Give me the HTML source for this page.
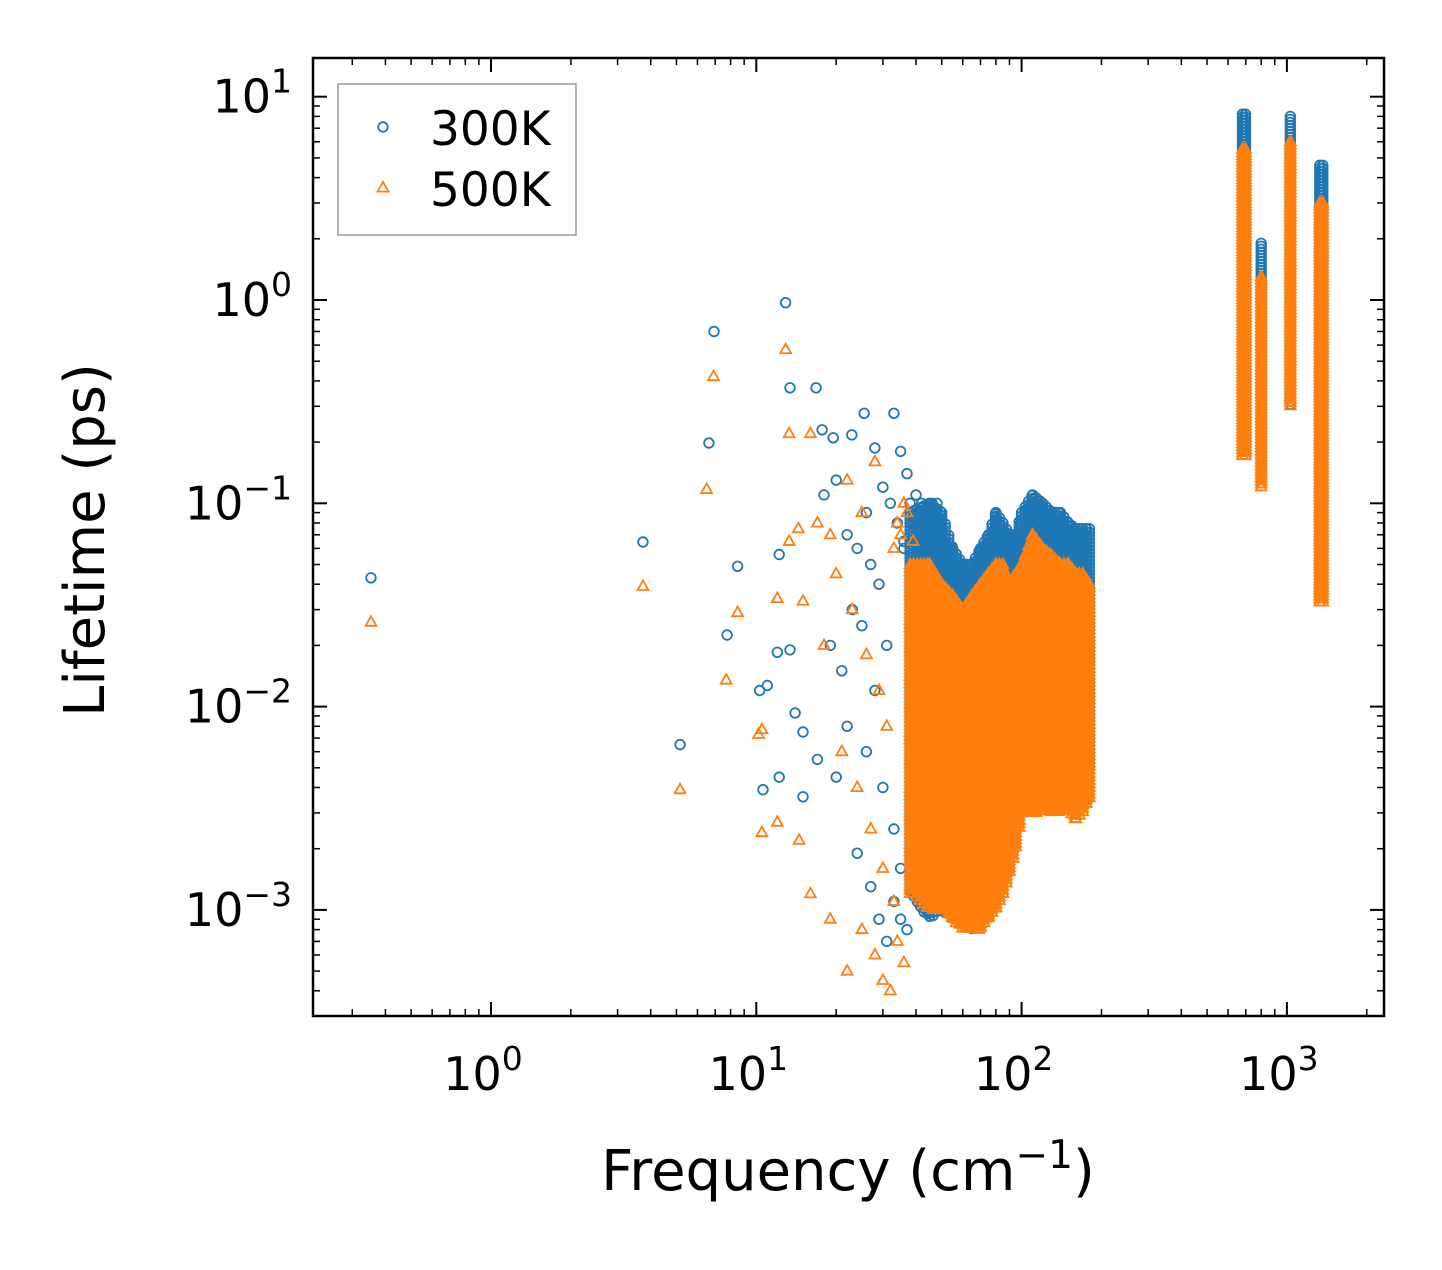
<!DOCTYPE html>
<html><head><meta charset="utf-8"><style>
html,body{margin:0;padding:0;background:#fff}
svg text{font-family:"DejaVu Sans","Liberation Sans",sans-serif;fill:#000}
</style></head><body>
<svg id="chart" width="1442" height="1265" viewBox="0 0 1442 1265" xmlns="http://www.w3.org/2000/svg">
<g id="marks"></g>
<g id="axes"></g>
</svg>
<script>
// ---- data ----
const scatter300Freq = [0.353,3.74,5.16,6.63,6.93,7.76,8.5,12.9,13.4,16.8,12.2,10.6,10.3,11,12,13.4,12.2,15,15,14,17.7,19.5,22.9,25.5,33,28,35,18,20,22,24,26,27,29,30,32,34,36,19,21,23,25,28,31,17,20,22,26,30,33,24,27,29,31,35,37,38,40,42,44,36,39,41,43,46,48,33,35,37];
const scatter300Life = [0.043,0.0645,0.0065,0.198,0.70,0.0225,0.049,0.97,0.37,0.37,0.056,0.0039,0.012,0.0127,0.0185,0.019,0.0045,0.0036,0.0075,0.0093,0.23,0.21,0.217,0.277,0.277,0.187,0.18,0.11,0.13,0.07,0.06,0.09,0.05,0.04,0.12,0.1,0.08,0.06,0.02,0.015,0.03,0.025,0.012,0.02,0.0055,0.0045,0.008,0.006,0.004,0.0025,0.0019,0.0013,0.0009,0.0007,0.0016,0.14,0.1,0.11,0.1,0.095,0.065,0.08,0.085,0.09,0.1,0.1,0.0011,0.0009,0.0008];
const scatter500Freq = [0.353,3.74,5.16,6.5,6.9,7.7,8.5,12.9,13.3,16,10.2,10.5,12,13.3,14.4,15,10.5,12,14.5,17,19,22,25,28,18,20,23,26,29,31,21,24,27,30,33,16,19,22,25,28,30,32,34,36,33,35,37,39,34,36];
const scatter500Life = [0.026,0.039,0.0039,0.117,0.42,0.0135,0.029,0.57,0.22,0.22,0.0073,0.0077,0.034,0.065,0.075,0.033,0.0024,0.0027,0.0022,0.08,0.07,0.13,0.09,0.16,0.02,0.045,0.03,0.018,0.012,0.008,0.006,0.004,0.0025,0.0016,0.0011,0.0012,0.0009,0.0005,0.0008,0.0006,0.00045,0.0004,0.08,0.1,0.06,0.07,0.09,0.065,0.0007,0.00055];
const bandFreq = [38,45,50,55,60,65,70,75,80,85,90,95,100,110,120,130,140,150,160,170,180,185];
const blueLow  = [0.0012,0.0009,0.001,0.0009,0.0009,0.0008,0.0009,0.0012,0.0013,0.0015,0.002,0.003,0.0035,0.004,0.004,0.004,0.004,0.004,0.004,0.004,0.005,0.006];
const blueHigh = [0.09,0.1,0.09,0.06,0.05,0.05,0.06,0.07,0.09,0.08,0.07,0.07,0.09,0.11,0.1,0.09,0.09,0.08,0.075,0.075,0.075,0.06];
const orangeLow  = [0.0012,0.001,0.001,0.0009,0.0008,0.0008,0.0008,0.0009,0.001,0.0012,0.0015,0.002,0.003,0.003,0.003,0.003,0.003,0.003,0.0028,0.003,0.0035,0.005];
const orangeHigh = [0.05,0.05,0.04,0.035,0.03,0.035,0.04,0.045,0.05,0.05,0.04,0.045,0.05,0.07,0.06,0.055,0.05,0.05,0.045,0.045,0.04,0.03];
const peakFreqLo = [680,800,1030,1330];
const peakFreqHi = [700,820,1050,1375];
const peakBlueLow = [0.18,0.13,0.3,0.035];
const peakBlueHigh = [8.2,1.9,8.0,4.6];
const peakOrangeLow = [0.17,0.12,0.3,0.032];
const peakOrangeHigh = [5.5,1.3,6.0,3.0];
const xTickLabels = ["0","1","2","3"];
const yTickLabels = ["1","0","\u22121","\u22122","\u22123"];

// ---- axes ----
const L=313,R=1384,T=58,B=1016;
const X = v => 491 + 265.3*Math.log10(v);
const Y = v => 300 - 203.3*Math.log10(v);
const NS="http://www.w3.org/2000/svg";
const marks=document.getElementById('marks'), axes=document.getElementById('axes');
function mk(tag, attrs, parent){const e=document.createElementNS(NS,tag);for(const k in attrs)e.setAttribute(k,attrs[k]);parent.appendChild(e);return e;}
const C1="#1f77b4", C2="#ff7f0e";
function circ(px,py){const e=mk('circle',{cx:px.toFixed(1),cy:py.toFixed(1),r:4.8,fill:'none',stroke:C1,'stroke-width':1.8},marks);

}
function tri(px,py){const s=6;const e=mk('polygon',{points:`${px},${py-s} ${px-s*0.9},${py+s*0.6} ${px+s*0.9},${py+s*0.6}`,fill:'none',stroke:C2,'stroke-width':1.8},marks);

}
function band(fr,lo,hi,fn){
  for(let i=0;i<fr.length-1;i++){
    const x0=X(fr[i]),x1=X(fr[i+1]);
    for(let px=x0;px<x1;px+=3.5){
      const t=(px-x0)/(x1-x0);
      const ylo=Y(lo[i])*(1-t)+Y(lo[i+1])*t, yhi=Y(hi[i])*(1-t)+Y(hi[i+1])*t;
      for(let py=yhi;py<=ylo;py+=3.5) fn(px,py);
    }
  }
}
function peaks(lo,hi,fn){
  for(let k=0;k<peakFreqLo.length;k++){
    const x0=X(peakFreqLo[k]),x1=X(peakFreqHi[k]);
    for(let px=x0;px<=x1;px+=3) for(let py=Y(hi[k]);py<=Y(lo[k]);py+=3) fn(px,py);
  }
}
scatter300Freq.forEach((f,i)=>circ(X(f),Y(scatter300Life[i])));
band(bandFreq,blueLow,blueHigh,circ);
peaks(peakBlueLow,peakBlueHigh,circ);
scatter500Freq.forEach((f,i)=>tri(X(f),Y(scatter500Life[i])));
band(bandFreq,orangeLow,orangeHigh,tri);
peaks(peakOrangeLow,peakOrangeHigh,tri);

const fr=mk('rect',{x:L,y:T,width:R-L,height:B-T,fill:'none',stroke:'#000','stroke-width':2.5},axes);


for(let d=-1;d<=3;d++){
  for(let m=1;m<=9;m++){
    const v=Math.pow(10,d)*m, px=X(v); if(px<L||px>R) continue;
    const len=m===1?14:7;
    mk('line',{x1:px,y1:B,x2:px,y2:B-len,stroke:'#000','stroke-width':m===1?2:1.5},axes);
    mk('line',{x1:px,y1:T,x2:px,y2:T+len,stroke:'#000','stroke-width':m===1?2:1.5},axes);
  }
}
xTickLabels.forEach(e=>{
  const px=X(Math.pow(10,+e));
  const t=mk('text',{x:px-8,y:1090,'font-size':46,'text-anchor':'middle'},axes);
  
  
  t.innerHTML=`10<tspan dy="-20" font-size="33">${e}</tspan>`;
});
for(let d=-4;d<=1;d++){
  for(let m=1;m<=9;m++){
    const v=Math.pow(10,d)*m, py=Y(v); if(py<T||py>B) continue;
    const len=m===1?14:7;
    mk('line',{x1:L,y1:py,x2:L+len,y2:py,stroke:'#000','stroke-width':m===1?2:1.5},axes);
    mk('line',{x1:R,y1:py,x2:R-len,y2:py,stroke:'#000','stroke-width':m===1?2:1.5},axes);
  }
}
yTickLabels.forEach(e=>{
  const py=Y(Math.pow(10,+e.replace('\u2212','-')));
  const t=mk('text',{x:292,y:py+16,'font-size':46,'text-anchor':'end'},axes);
  
  
  t.innerHTML=`10<tspan dy="-20" font-size="33">${e}</tspan>`;
});
const xt=mk('text',{x:848,y:1190,'font-size':56,'text-anchor':'middle'},axes);


xt.innerHTML='Frequency (cm<tspan dy="-22" font-size="39">\u22121</tspan><tspan dy="22">)</tspan>';
const yt=mk('text',{x:0,y:0,'font-size':56,'text-anchor':'middle',transform:'translate(104,540) rotate(-90)'},axes);


yt.textContent='Lifetime (ps)';
const lg=mk('g',{},axes);


mk('rect',{x:338,y:84,width:238,height:151,fill:'#fff',stroke:'#999','stroke-width':1.5},lg);
mk('circle',{cx:383,cy:127,r:4.8,fill:'none',stroke:C1,'stroke-width':1.8},lg);
mk('polygon',{points:"383,182 377.6,191.6 388.4,191.6",fill:'none',stroke:C2,'stroke-width':1.8},lg);
const l1=mk('text',{x:430,y:145,'font-size':47},lg);l1.textContent='300K';


const l2=mk('text',{x:430,y:206,'font-size':47},lg);l2.textContent='500K';


</script>
</body></html>
